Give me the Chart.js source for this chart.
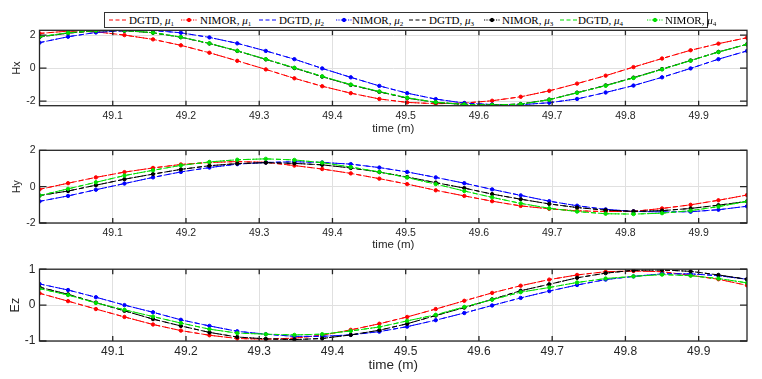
<!DOCTYPE html>
<html>
<head>
<meta charset="utf-8">
<script src="https://cdn.jsdelivr.net/npm/chart.js@4.4.0/dist/chart.umd.min.js"></script>
<style>
  body { margin: 0; background: #fff; width: 762px; height: 379px; position: relative; overflow: hidden; }
  .box { position: absolute; left: 0; width: 762px; }
  #legend { position: absolute; left: 104px; top: 12px; width: 602px; height: 14px; border: 1px solid #333;
            background: #fff; font-family: "Liberation Serif", "DejaVu Serif", serif; font-size: 11px; color: #000; z-index: 2; }
  .item { position: absolute; top: 0; height: 14px; line-height: 14px; white-space: nowrap; }
  .item svg { position: absolute; top: 3px; left: 0; }
  .item span { position: absolute; top: 0; }
  sub { font-size: 7px; vertical-align: -2px; line-height: 0; }
</style>
</head>
<body>
<div id="legend"></div>
<div class="box" style="top:20px;height:120px"><canvas id="hxChart" width="762" height="120"></canvas></div>
<div class="box" style="top:140px;height:118px"><canvas id="hyChart" width="762" height="118"></canvas></div>
<div class="box" style="top:258px;height:121px"><canvas id="ezChart" width="762" height="121"></canvas></div>
<script>
// tiempos de muestreo
var times = [49.000, 49.039, 49.077, 49.116, 49.155, 49.193, 49.232, 49.270, 49.309, 49.348, 49.386, 49.425, 49.464,
             49.502, 49.541, 49.580, 49.618, 49.657, 49.696, 49.734, 49.773, 49.811, 49.850, 49.889, 49.927, 49.966];
var xTicks = [49.1, 49.2, 49.3, 49.4, 49.5, 49.6, 49.7, 49.8, 49.9];

// Hx
var hxMu1 = [2.1, 2.24, 2.2, 2.0, 1.74, 1.38, 0.93, 0.44, -0.08, -0.62, -1.1, -1.52, -1.87, -2.08, -2.16, -2.12, -1.98, -1.74, -1.38, -0.94, -0.46, 0.06, 0.58, 1.08, 1.48, 1.84];
var hxMu2 = [1.54, 1.9, 2.16, 2.27, 2.28, 2.14, 1.86, 1.5, 1.04, 0.54, -0.02, -0.56, -1.08, -1.52, -1.88, -2.12, -2.21, -2.22, -2.1, -1.87, -1.48, -1.06, -0.56, -0.02, 0.54, 1.04];
var hxMu3 = [1.88, 2.12, 2.26, 2.27, 2.14, 1.87, 1.49, 1.04, 0.53, 0.0, -0.52, -1.02, -1.44, -1.82, -2.08, -2.21, -2.24, -2.18, -1.91, -1.49, -1.05, -0.58, -0.06, 0.46, 0.98, 1.44];
var hxMu4 = [1.9, 2.14, 2.27, 2.28, 2.15, 1.88, 1.5, 1.05, 0.54, 0.02, -0.5, -1.0, -1.42, -1.8, -2.07, -2.2, -2.24, -2.19, -1.92, -1.5, -1.07, -0.6, -0.08, 0.45, 0.97, 1.44];
var hxTicks = [-2, 0, 2];

// Hy
var hyMu1 = [-0.15, 0.19, 0.51, 0.8, 1.03, 1.22, 1.33, 1.38, 1.34, 1.16, 0.97, 0.73, 0.44, 0.14, -0.2, -0.51, -0.8, -1.06, -1.22, -1.33, -1.37, -1.36, -1.2, -1.0, -0.75, -0.46];
var hyMu2 = [-0.81, -0.51, -0.17, 0.17, 0.51, 0.81, 1.05, 1.24, 1.33, 1.37, 1.33, 1.24, 1.05, 0.81, 0.51, 0.19, -0.15, -0.48, -0.8, -1.05, -1.25, -1.36, -1.39, -1.38, -1.27, -1.08];
var hyMu3 = [-0.49, -0.24, 0.08, 0.41, 0.69, 0.95, 1.15, 1.27, 1.32, 1.28, 1.2, 1.03, 0.8, 0.53, 0.22, -0.08, -0.41, -0.69, -0.95, -1.15, -1.29, -1.36, -1.32, -1.2, -1.02, -0.81];
var hyMu4 = [-0.49, -0.12, 0.24, 0.61, 0.9, 1.17, 1.36, 1.48, 1.53, 1.47, 1.32, 1.08, 0.81, 0.5, 0.14, -0.24, -0.59, -0.92, -1.19, -1.37, -1.49, -1.51, -1.46, -1.32, -1.1, -0.81];
var hyTicks = [-2, 0, 2];

// Ez
var ezMu1 = [0.33, 0.11, -0.11, -0.33, -0.54, -0.71, -0.84, -0.93, -0.95, -0.92, -0.84, -0.69, -0.52, -0.33, -0.11, 0.12, 0.34, 0.54, 0.71, 0.84, 0.93, 0.95, 0.93, 0.83, 0.72, 0.55];
var ezMu2 = [0.59, 0.42, 0.22, 0.0, -0.2, -0.41, -0.58, -0.73, -0.81, -0.87, -0.87, -0.83, -0.74, -0.6, -0.42, -0.22, -0.01, 0.2, 0.39, 0.56, 0.71, 0.8, 0.87, 0.87, 0.82, 0.72];
var ezMu3 = [0.5, 0.3, 0.07, -0.16, -0.39, -0.58, -0.76, -0.89, -0.94, -0.96, -0.93, -0.83, -0.7, -0.52, -0.29, -0.07, 0.16, 0.4, 0.58, 0.76, 0.89, 0.97, 0.98, 0.94, 0.84, 0.72];
var ezMu4 = [0.46, 0.28, 0.06, -0.13, -0.32, -0.5, -0.67, -0.78, -0.81, -0.83, -0.81, -0.72, -0.61, -0.44, -0.27, -0.05, 0.15, 0.36, 0.49, 0.63, 0.74, 0.8, 0.85, 0.82, 0.74, 0.62];
var ezTicks = [-1, 0, 1];

var methods = ['DGTD', 'NIMOR'];
var muColors = ['#ff0000', '#0000ff', '#000000', '#00e000'];

var axisColor = '#262626';
var gridColor = '#e0e0e0';

// --- leyenda (arriba, en caja) ---
var legendSampleX = [3, 75, 153, 230, 303, 378, 454, 541]; // relativo a la caja
var legendTextX = [24, 95, 174, 247, 324, 397, 473, 560];
var legendDiv = document.getElementById('legend');
for (var k = 0; k < 4; k++) {
    for (var m = 0; m < 2; m++) {
        var n = k * 2 + m;
        var c = muColors[k];
        var item = document.createElement('div');
        item.className = 'item';
        item.style.left = legendSampleX[n] + 'px';
        var svg;
        if (m === 0) {
            svg = '<svg width="20" height="8"><line x1="1" y1="4" x2="19" y2="4" stroke="' + c + '" stroke-width="1.2" stroke-dasharray="4,2.5"/></svg>';
        } else {
            svg = '<svg width="18" height="8"><line x1="1" y1="4" x2="17" y2="4" stroke="' + c + '" stroke-width="1.2" stroke-dasharray="1.2,1.2"/>' +
                  '<circle cx="9" cy="4" r="1.7" fill="' + c + '" stroke="' + c + '"/></svg>';
        }
        item.innerHTML = svg + '<span style="left:' + (legendTextX[n] - legendSampleX[n]) + 'px">' + methods[m] + ', <i>&mu;</i><sub>' + (k + 1) + '</sub></span>';
        legendDiv.appendChild(item);
    }
}

// caja y marcas de estilo matlab
var matlabBox = {
    id: 'matlabBox',
    afterDraw: function (chart) {
        var ctx = chart.ctx, a = chart.chartArea;
        var xs = chart.scales.x, ys = chart.scales.y;
        ctx.save();
        ctx.strokeStyle = axisColor;
        ctx.lineWidth = 1.3;
        ctx.strokeRect(a.left, a.top, a.right - a.left, a.bottom - a.top);
        ctx.beginPath();
        xs.ticks.forEach(function (t) {
            var px = xs.getPixelForValue(t.value);
            ctx.moveTo(px, a.top); ctx.lineTo(px, a.top + 5);
            ctx.moveTo(px, a.bottom); ctx.lineTo(px, a.bottom - 5);
        });
        ys.ticks.forEach(function (t) {
            var py = ys.getPixelForValue(t.value);
            ctx.moveTo(a.left, py); ctx.lineTo(a.left + 7, py);
            ctx.moveTo(a.right, py); ctx.lineTo(a.right - 7, py);
        });
        ctx.stroke();
        ctx.restore();
    }
};

function makeChart(id, series, yMin, yMax, yTicks, yTitle, cfg) {
    var datasets = [];
    for (var k = 0; k < series.length; k++) {
        var pts = times.map(function (t, i) { return { x: t, y: series[k][i] }; });
        datasets.push({
            label: 'DGTD, mu' + (k + 1),
            data: pts,
            borderColor: muColors[k],
            borderWidth: 1,
            borderDash: [5, 3],
            pointRadius: 0,
            fill: false,
            order: 20 - 2 * k
        });
        datasets.push({
            label: 'NIMOR, mu' + (k + 1),
            data: pts,
            borderColor: muColors[k],
            backgroundColor: muColors[k],
            borderWidth: 1,
            borderDash: [5, 2, 1, 2],
            pointRadius: 1.7,
            pointBorderWidth: 1,
            pointBackgroundColor: muColors[k],
            pointBorderColor: muColors[k],
            fill: false,
            order: 19 - 2 * k
        });
    }
    var fam = '"Liberation Sans", Arial, sans-serif';
    return new Chart(document.getElementById(id), {
        type: 'line',
        data: { datasets: datasets },
        options: {
            responsive: false,
            animation: false,
            events: [],
            layout: { padding: { top: cfg.padTop, right: 15, left: 0, bottom: 0 } },
            plugins: { legend: { display: false }, tooltip: { enabled: false } },
            scales: {
                x: {
                    type: 'linear',
                    min: 49.0,
                    max: 49.966,
                    afterBuildTicks: function (s) { s.ticks = xTicks.map(function (v) { return { value: v }; }); },
                    afterFit: function (s) { s.height = cfg.xH; },
                    grid: { color: gridColor, drawTicks: false, lineWidth: 1 },
                    border: { display: false },
                    ticks: {
                        autoSkip: false, maxRotation: 0, padding: cfg.xTickPad, color: axisColor,
                        font: { family: fam, size: cfg.tickSize },
                        callback: function (v) { return Number(v).toFixed(1); }
                    },
                    title: {
                        display: true, text: 'time (m)', color: axisColor,
                        font: { family: fam, size: cfg.titleSize },
                        padding: { top: 0, bottom: cfg.titlePad }
                    }
                },
                y: {
                    type: 'linear',
                    min: yMin,
                    max: yMax,
                    afterBuildTicks: function (s) { s.ticks = yTicks.map(function (v) { return { value: v }; }); },
                    afterFit: function (s) { s.width = 39.5; },
                    grid: { color: gridColor, drawTicks: false, lineWidth: 1 },
                    border: { display: false },
                    ticks: { padding: 4, color: axisColor, font: { family: fam, size: cfg.tickSize } },
                    title: {
                        display: true, text: yTitle, color: axisColor,
                        font: { family: fam, size: cfg.yTitleSize },
                        padding: { top: cfg.yTitlePad, bottom: 0 }
                    }
                }
            }
        },
        plugins: [matlabBox]
    });
}

makeChart('hxChart', [hxMu1, hxMu2, hxMu3, hxMu4], -2.28, 2.29, hxTicks, 'Hx',
    { padTop: 8, xH: 34.3, xTickPad: 4, tickSize: 10.5, titleSize: 11.5, titlePad: 4, yTitleSize: 10.5, yTitlePad: 10.5 });
makeChart('hyChart', [hyMu1, hyMu2, hyMu3, hyMu4], -2, 2, hyTicks, 'Hy',
    { padTop: 5.7, xH: 35, xTickPad: 4, tickSize: 10.5, titleSize: 11.5, titlePad: 6, yTitleSize: 10.5, yTitlePad: 11 });
makeChart('ezChart', [ezMu1, ezMu2, ezMu3, ezMu4], -1, 1, ezTicks, 'Ez',
    { padTop: 5.3, xH: 38, xTickPad: 3, tickSize: 12, titleSize: 13.5, titlePad: 6, yTitleSize: 12.5, yTitlePad: 8 });
</script>
</body>
</html>
